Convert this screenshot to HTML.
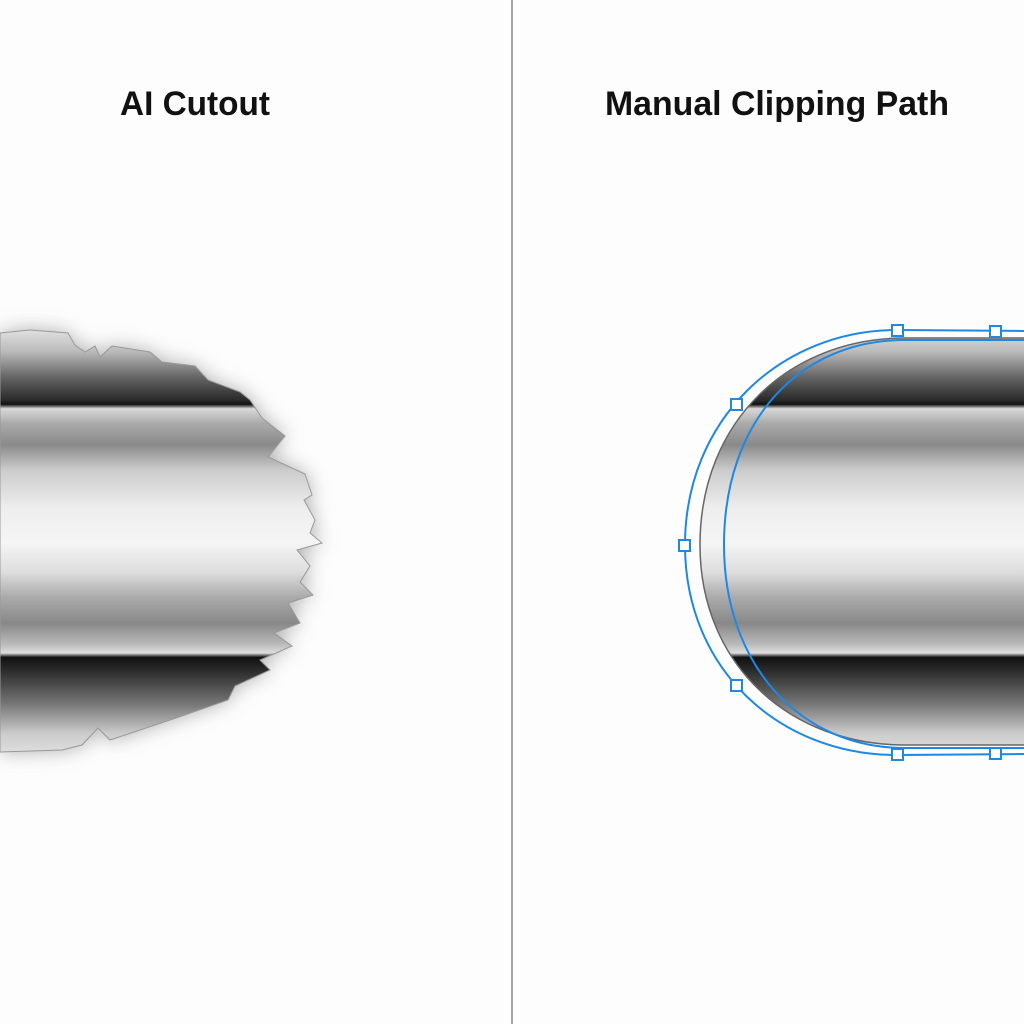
<!DOCTYPE html>
<html><head><meta charset="utf-8"><style>
html,body{margin:0;padding:0;background:#fdfdfd;}
svg{display:block}
</style></head><body>
<svg width="1024" height="1024" viewBox="0 0 1024 1024" xmlns="http://www.w3.org/2000/svg">
<defs>
<linearGradient id="cyl" x1="0" y1="330" x2="0" y2="755" gradientUnits="userSpaceOnUse">
<stop offset="0" stop-color="#e0e0e0"/>
<stop offset="0.05" stop-color="#bbb"/>
<stop offset="0.11" stop-color="#666"/>
<stop offset="0.165" stop-color="#2a2a2a"/>
<stop offset="0.175" stop-color="#111"/>
<stop offset="0.185" stop-color="#d8d8d8"/>
<stop offset="0.22" stop-color="#aaa"/>
<stop offset="0.27" stop-color="#8a8a8a"/>
<stop offset="0.33" stop-color="#ccc"/>
<stop offset="0.42" stop-color="#eeeeee"/>
<stop offset="0.5" stop-color="#f5f5f5"/>
<stop offset="0.57" stop-color="#ddd"/>
<stop offset="0.63" stop-color="#aaa"/>
<stop offset="0.69" stop-color="#888"/>
<stop offset="0.74" stop-color="#bbb"/>
<stop offset="0.76" stop-color="#ddd"/>
<stop offset="0.77" stop-color="#111"/>
<stop offset="0.80" stop-color="#2a2a2a"/>
<stop offset="0.88" stop-color="#777"/>
<stop offset="0.95" stop-color="#ccc"/>
<stop offset="1" stop-color="#e0e0e0"/>
</linearGradient>
<filter id="sh" x="-20%" y="-20%" width="140%" height="140%"><feGaussianBlur stdDeviation="10"/></filter>
</defs>
<line x1="512" y1="0" x2="512" y2="1024" stroke="#888" stroke-width="1.5"/>
<text x="195" y="115" font-family="Liberation Sans, sans-serif" font-size="34" font-weight="bold" text-anchor="middle" fill="#111" textLength="150" lengthAdjust="spacingAndGlyphs">AI Cutout</text>
<text x="777" y="115" font-family="Liberation Sans, sans-serif" font-size="34" font-weight="bold" text-anchor="middle" fill="#111" textLength="344" lengthAdjust="spacingAndGlyphs">Manual Clipping Path</text>

<path d="M0,333 L30,330 L68,333 L75,345 L85,352 L95,346 L100,357 L112,346 L150,352 L162,362 L195,366 L208,380 L240,392 L250,400 L262,418 L285,436 L268,457 L305,474 L312,495 L304,500 L315,520 L310,533 L322,543 L297,550 L310,566 L300,582 L313,595 L288,603 L300,623 L274,633 L292,646 L260,660 L270,670 L235,686 L228,700 L176,718 L110,740 L98,728 L82,745 L62,750 L0,752 Z" fill="#999" filter="url(#sh)" opacity="0.8"/>
<path d="M0,333 L30,330 L68,333 L75,345 L85,352 L95,346 L100,357 L112,346 L150,352 L162,362 L195,366 L208,380 L240,392 L250,400 L262,418 L285,436 L268,457 L305,474 L312,495 L304,500 L315,520 L310,533 L322,543 L297,550 L310,566 L300,582 L313,595 L288,603 L300,623 L274,633 L292,646 L260,660 L270,670 L235,686 L228,700 L176,718 L110,740 L98,728 L82,745 L62,750 L0,752 Z" fill="url(#cyl)" stroke="#999" stroke-width="1"/>

<path d="M1030,338 L905,338 C790,338 700,420 700,545 C700,665 790,745 905,745 L1030,745 Z" fill="url(#cyl)" stroke="#666" stroke-width="1.5"/>
<path d="M1030,340 L905,340 C800,340 724,420 724,545 C724,665 800,748 905,748 L1030,748" fill="none" stroke="#1e88e5" stroke-width="2"/>
<path d="M1030,331 L897,330 C780,330 685,420 685,545 C685,670 780,755 897,755 L1030,754" fill="none" stroke="#1e88e5" stroke-width="2"/>
<g fill="#fff" stroke="#1e88e5" stroke-width="2">
<rect x="892" y="325" width="11" height="11"/>
<rect x="990" y="326" width="11" height="11"/>
<rect x="731" y="399" width="11" height="11"/>
<rect x="679" y="540" width="11" height="11"/>
<rect x="731" y="680" width="11" height="11"/>
<rect x="892" y="749" width="11" height="11"/>
<rect x="990" y="748" width="11" height="11"/>
</g>
</svg>
</body></html>
